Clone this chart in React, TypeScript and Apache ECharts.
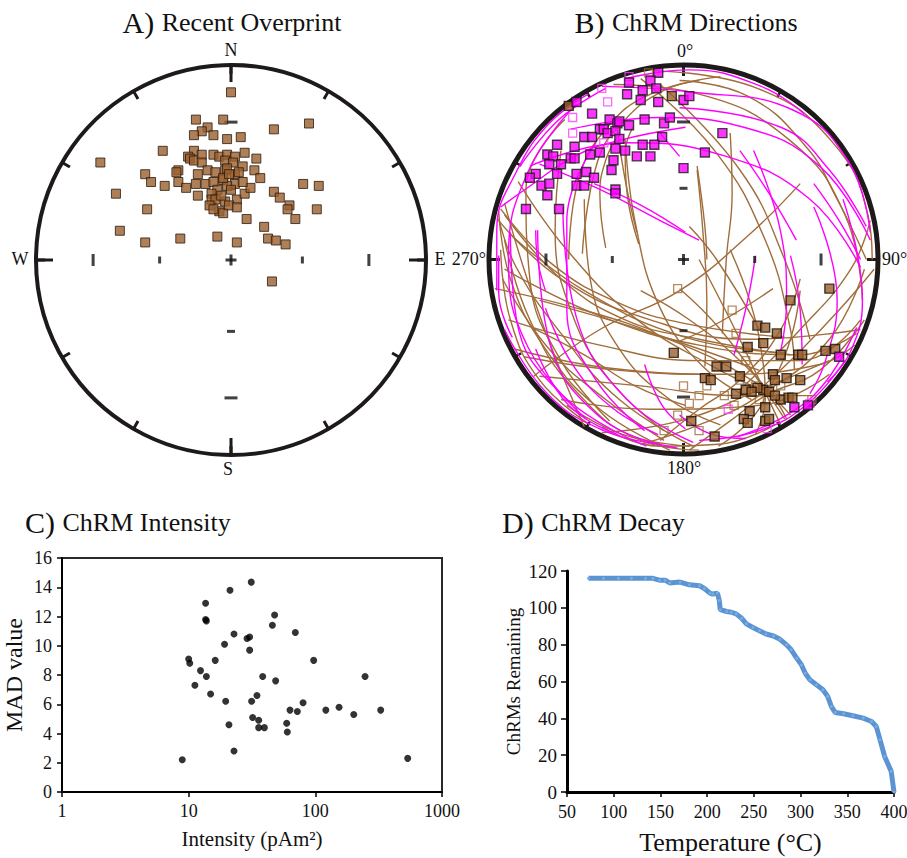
import React, { useEffect, useRef } from "react";
import * as echarts from "echarts";

// ---------- Panel A: recent overprint directions (equal-area, east/north in net radii)
const A_POINTS: number[][] = [
  [0.0, 0.86], [-0.18, 0.72], [-0.04, 0.72], [0.22, 0.67], [0.4, 0.7], [-0.12, 0.68], [-0.15, 0.66],
  [-0.19, 0.64], [-0.09, 0.64], [-0.02, 0.62], [0.05, 0.63], [-0.35, 0.56], [-0.67, 0.5], [-0.19, 0.56],
  [-0.22, 0.53], [-0.21, 0.52], [-0.19, 0.51], [-0.15, 0.54], [-0.15, 0.5], [-0.09, 0.54], [-0.06, 0.53],
  [-0.02, 0.54], [-0.03, 0.51], [0.02, 0.53], [0.07, 0.55], [0.01, 0.5], [0.06, 0.48], [0.13, 0.52],
  [-0.27, 0.46], [-0.28, 0.45], [-0.17, 0.44], [-0.12, 0.46], [-0.08, 0.45], [-0.03, 0.46], [0.02, 0.44],
  [0.04, 0.45], [0.12, 0.46], [0.15, 0.42], [-0.44, 0.44], [-0.41, 0.4], [-0.34, 0.38], [-0.27, 0.4],
  [-0.23, 0.37], [-0.18, 0.39], [-0.13, 0.39], [-0.09, 0.4], [-0.04, 0.41], [0.02, 0.39], [-0.02, 0.38],
  [-0.07, 0.36], [-0.1, 0.34], [-0.17, 0.33], [-0.1, 0.31], [-0.08, 0.31], [-0.03, 0.3], [0.03, 0.31],
  [0.07, 0.34], [0.1, 0.37], [0.22, 0.35], [0.25, 0.32], [0.37, 0.39], [0.45, 0.38], [-0.59, 0.34],
  [-0.43, 0.26], [-0.11, 0.28], [-0.06, 0.25], [-0.04, 0.24], [-0.01, 0.28], [0.03, 0.27], [0.08, 0.21],
  [0.3, 0.28], [0.29, 0.26], [0.33, 0.21], [0.44, 0.26], [0.17, 0.17], [0.19, 0.11], [0.23, 0.1],
  [0.28, 0.08], [-0.57, 0.15], [-0.44, 0.09], [-0.26, 0.11], [-0.07, 0.12], [0.03, 0.09], [0.21, -0.11],
  [-0.02, 0.47], [-0.04, 0.42], [-0.01, 0.44], [-0.09, 0.26], [0.06, 0.4], [-0.05, 0.33], [0.0, 0.36],
];

// ---------- Panel B: ChRM directions
const B_MAGENTA_FILLED: number[][] = [
  [-0.13, 0.96], [-0.17, 0.92], [-0.28, 0.91], [-0.21, 0.87], [-0.14, 0.88], [-0.29, 0.85], [-0.22, 0.82],
  [-0.13, 0.81], [0.0, 0.82], [0.03, 0.84], [-0.55, 0.81], [-0.47, 0.75], [-0.38, 0.72], [-0.34, 0.7],
  [-0.33, 0.71], [-0.28, 0.69], [-0.2, 0.72], [-0.1, 0.7], [-0.07, 0.73], [0.2, 0.65], [-0.43, 0.67],
  [-0.41, 0.67], [-0.39, 0.65], [-0.35, 0.66], [-0.51, 0.63], [-0.47, 0.63], [-0.33, 0.62], [-0.11, 0.63],
  [-0.65, 0.59], [-0.56, 0.58], [-0.35, 0.57], [-0.3, 0.56], [-0.21, 0.59], [-0.15, 0.59], [-0.43, 0.55],
  [-0.48, 0.54], [-0.24, 0.53], [-0.17, 0.53], [0.11, 0.55], [-0.7, 0.54], [-0.67, 0.53], [-0.58, 0.52],
  [-0.56, 0.52], [-0.69, 0.49], [-0.63, 0.49], [-0.36, 0.51], [-0.37, 0.46], [0.0, 0.47], [-0.76, 0.44],
  [-0.79, 0.42], [-0.65, 0.44], [-0.55, 0.44], [-0.5, 0.45], [-0.46, 0.42], [-0.73, 0.38], [-0.69, 0.39],
  [-0.55, 0.38], [-0.51, 0.38], [-0.35, 0.36], [-0.35, 0.34], [-0.7, 0.33], [-0.81, 0.26], [-0.64, 0.26],
  [0.8, -0.5], [0.57, -0.76], [0.64, -0.75],
];
const B_MAGENTA_OPEN: number[][] = [
  [-0.42, 0.88], [-0.39, 0.81], [-0.57, 0.65], [-0.41, 0.6], [-0.57, 0.73], [-0.28, 0.94],
  [0.23, -0.77], [0.65, -0.74], [0.43, -0.87],
];
const B_BROWN_FILLED: number[][] = [
  [-0.06, 0.84], [-0.59, 0.79], [0.75, -0.15], [0.55, -0.21], [0.38, -0.34], [0.42, -0.35], [0.48, -0.38],
  [0.33, -0.45], [0.41, -0.43], [0.5, -0.49], [0.59, -0.49], [0.61, -0.49], [0.73, -0.47], [0.78, -0.46],
  [0.17, -0.55], [0.22, -0.55], [0.11, -0.61], [0.14, -0.62], [0.29, -0.6], [0.46, -0.59], [0.47, -0.62],
  [0.53, -0.61], [0.6, -0.62], [0.27, -0.69], [0.32, -0.67], [0.41, -0.67], [0.44, -0.68], [0.5, -0.72],
  [0.54, -0.71], [0.56, -0.71], [0.34, -0.78], [0.42, -0.76], [0.31, -0.82], [0.33, -0.84], [0.42, -0.83],
  [0.44, -0.82], [0.04, -0.83], [0.16, -0.91], [-0.05, -0.48], [0.38, -0.66], [0.35, -0.68], [0.47, -0.7],
];
const B_BROWN_OPEN: number[][] = [
  [-0.03, -0.15], [0.27, -0.38], [0.25, -0.26], [0.03, -0.74], [-0.03, -0.8], [0.12, -0.65], [-0.18, 0.96],
  [0.29, -0.62], [0.37, -0.65], [0.39, -0.72], [0.21, -0.7], [0.08, -0.7], [0.32, -0.52], [0.66, -0.72],
  [-0.1, -0.88], [0.26, -0.75], [0.08, -0.88], [0.5, -0.65], [0.0, -0.65],
];
const B_BROWN_ARCS: number[][][] = [
  [[-0.15, 0.97], [0.38, 0.88], [0.76, 0.61], [0.95, 0.22], [0.97, 0]],
  [[-0.02, 0.92], [0.33, 0.84], [0.63, 0.58], [0.79, 0.31], [0.94, 0]],
  [[-0.36, 0.9], [0.08, 0.85], [0.55, 0.61], [0.83, 0.23], [0.92, -0.21]],
  [[-0.22, 0.93], [0.16, 0.56], [0.42, 0.1], [0.55, -0.36], [0.57, -0.57]],
  [[-0.12, 0.9], [0.29, 0.46], [0.52, 0.0], [0.65, -0.41]],
  [[-0.52, 0.03], [-0.44, 0.51], [-0.3, 0.72], [-0.1, 0.87], [0.08, 0.92]],
  [[-0.59, 0.0], [-0.54, 0.41], [-0.4, 0.67], [-0.17, 0.85], [0.19, 0.94]],
  [[-0.23, 0.08], [-0.29, 0.34], [-0.3, 0.55], [-0.26, 0.68]],
  [[-0.4, 0.06], [-0.43, 0.34], [-0.4, 0.51], [-0.34, 0.63]],
  [[-0.24, 0.14], [-0.3, 0.41], [-0.34, 0.67]],
  [[0.07, 0.46], [0.1, 0.14], [0.12, -0.21], [0.11, -0.55]],
  [[0.24, 0.65], [0.25, 0.34], [0.22, 0.0], [0.2, -0.38]],
  [[0.07, 0.48], [0.11, 0.17], [0.12, 0.0]],
  [[-0.77, -0.6], [-0.43, -0.36], [-0.02, -0.16], [0.34, 0.13], [0.6, 0.39]],
  [[0.03, 0.17], [0.17, 0.0], [0.39, -0.36]],
  [[-0.95, 0.25], [-0.89, -0.1], [-0.71, -0.46], [-0.43, -0.77], [-0.07, -0.98]],
  [[-0.92, 0.1], [-0.79, -0.31], [-0.56, -0.67], [-0.22, -0.93], [0.08, -0.98]],
  [[-0.95, 0.21], [-0.86, -0.04], [-0.63, -0.38], [-0.33, -0.72], [0.05, -0.96]],
  [[-0.94, 0.05], [-0.89, -0.31], [-0.74, -0.62], [-0.48, -0.85]],
  [[-0.61, 0.72], [-0.81, 0.36], [-0.79, -0.1], [-0.63, -0.52], [-0.38, -0.83]],
  [[-0.63, 0.56], [-0.66, 0.15], [-0.58, -0.26], [-0.38, -0.62], [-0.1, -0.88]],
  [[-0.51, 0.31], [-0.48, -0.1], [-0.33, -0.46], [-0.07, -0.72], [0.19, -0.85]],
  [[-0.95, 0.2], [-0.63, -0.1], [-0.17, -0.31], [0.34, -0.41], [0.91, -0.36]],
  [[-0.92, -0.05], [-0.43, -0.29], [0.08, -0.44], [0.6, -0.49], [0.89, -0.38]],
  [[-0.9, -0.31], [-0.43, -0.44], [0.08, -0.52], [0.6, -0.52], [0.91, -0.31]],
  [[-0.82, -0.5], [-0.33, -0.57], [0.19, -0.59], [0.7, -0.54], [0.88, -0.44]],
  [[-0.74, -0.6], [-0.22, -0.65], [0.29, -0.7], [0.66, -0.7]],
  [[-0.63, -0.72], [-0.17, -0.77], [0.39, -0.75], [0.75, -0.59]],
  [[-0.74, -0.21], [-0.22, -0.36], [0.39, -0.57]],
  [[-0.78, -0.35], [-0.51, -0.49], [-0.25, -0.65], [0.01, -0.75]],
  [[-0.87, -0.46], [-0.51, -0.54], [-0.16, -0.58], [0.08, -0.59]],
  [[0.03, -0.98], [0.24, -0.83], [0.42, -0.7], [0.7, -0.57], [0.93, -0.31]],
  [[-0.22, -0.95], [0.08, -0.85], [0.39, -0.7], [0.75, -0.41], [0.93, -0.05]],
  [[0.18, -0.96], [0.34, -0.83], [0.44, -0.67], [0.55, -0.41], [0.6, -0.16]],
  [[0.37, -0.9], [0.42, -0.72], [0.4, -0.47], [0.34, -0.21], [0.24, 0.05]],
  [[0.53, -0.82], [0.47, -0.72], [0.29, -0.52], [0.03, -0.31], [-0.22, -0.16]],
  [[-0.02, -0.15], [0.19, -0.36], [0.44, -0.7], [0.52, -0.82]],
  [[0.08, 0.0], [0.24, -0.31], [0.39, -0.62], [0.5, -0.85]],
  [[0.46, -0.15], [0.19, -0.32], [-0.02, -0.42]],
  [[0.39, -0.67], [0.6, -0.47], [0.8, -0.26], [0.98, -0.05]],
  [[0.29, -0.67], [0.6, -0.36], [0.86, -0.05], [0.96, 0.2]],
  [[-0.42, -0.89], [-0.02, -0.83], [0.39, -0.67], [0.75, -0.52]],
  [[-0.12, -0.93], [0.08, -0.77], [0.29, -0.62], [0.5, -0.36], [0.6, -0.1]],
  [[-0.42, -0.86], [-0.12, -0.96], [0.18, -0.95], [0.47, -0.85]],
  [[-0.6, -0.75], [-0.31, -0.9], [0.03, -0.96]],
  [[-0.94, 0.26], [-0.68, -0.02], [-0.34, -0.22], [0.01, -0.33], [0.52, -0.4]],
  [[-0.92, 0.23], [-0.63, -0.1], [-0.3, -0.31], [0.08, -0.41], [0.55, -0.49]],
  [[-0.88, 0.12], [-0.51, -0.16], [0.01, -0.4], [0.52, -0.48]],
  [[-0.85, 0.4], [-0.6, 0.05], [-0.25, -0.3], [0.15, -0.55], [0.4, -0.67]],
  [[-0.93, -0.1], [-0.7, -0.45], [-0.4, -0.72], [-0.1, -0.93]],
  [[-0.92, 0.29], [-0.82, -0.05], [-0.68, -0.45], [-0.51, -0.86]],
  [[-0.3, 0.62], [-0.25, 0.2], [-0.12, -0.25], [0.1, -0.55], [0.35, -0.72]],
  [[-0.97, -0.15], [-0.55, -0.25], [-0.1, -0.4], [0.35, -0.62], [0.55, -0.8]],
];
const B_MAGENTA_ARCS: number[][][] = [
  [[-0.42, 0.89], [0.05, 0.86], [0.56, 0.77], [0.85, 0.5], [0.96, 0.14]],
  [[-0.58, 0.67], [-0.12, 0.73], [0.31, 0.68], [0.7, 0.48], [0.96, 0.1]],
  [[-0.79, 0.48], [-0.29, 0.6], [0.22, 0.53], [0.65, 0.31], [0.91, -0.04]],
  [[-0.49, 0.85], [-0.69, 0.7], [-0.86, 0.45], [-0.96, 0.15], [-0.96, -0.16]],
  [[-0.4, 0.88], [-0.64, 0.72], [-0.84, 0.48]],
  [[-0.89, 0.14], [-0.86, -0.3], [-0.63, -0.69], [-0.19, -0.96]],
  [[-0.75, 0.15], [-0.7, -0.38], [-0.43, -0.81], [-0.03, -0.97]],
  [[-0.62, 0.27], [-0.55, -0.3], [-0.29, -0.72], [0.05, -0.94]],
  [[-0.94, 0.27], [-0.8, 0.37], [-0.56, 0.53], [-0.34, 0.61], [0.01, 0.68]],
  [[-0.46, 0.39], [-0.22, 0.28], [0.01, 0.14]],
  [[-0.74, 0.49], [-0.43, 0.36], [-0.12, 0.2], [0.08, 0.1]],
  [[-0.02, 0.78], [0.5, 0.68], [0.75, 0.46], [0.94, 0.17]],
  [[0.29, 0.56], [0.44, 0.34], [0.58, 0.1]],
  [[0.67, 0.39], [0.8, 0.2], [0.91, 0.0]],
  [[0.82, 0.31], [0.92, -0.21], [0.86, -0.47], [0.74, -0.63]],
  [[0.67, 0.27], [0.79, -0.21], [0.73, -0.52], [0.65, -0.69]],
  [[0.36, 0.56], [0.5, 0.14], [0.53, -0.21], [0.5, -0.47]],
  [[0.37, 0.02], [0.33, -0.21], [0.26, -0.49]],
  [[0.55, 0.02], [0.6, -0.26], [0.61, -0.54]],
  [[-0.92, -0.36], [-0.7, -0.69], [-0.41, -0.88], [-0.12, -0.95]],
  [[-0.3, 0.93], [0.03, 0.975], [0.4, 0.89], [0.62, 0.75]],
  [[-0.95, 0.02], [-0.95, -0.17], [-0.88, -0.4]],
  [[-0.76, -0.46], [-0.59, -0.75], [-0.34, -0.9]],
  [[-0.71, -0.25], [-0.57, -0.54], [-0.37, -0.76], [-0.13, -0.9]],
  [[0.08, -0.93], [0.39, -0.88], [0.64, -0.74], [0.83, -0.52]],
  [[0.28, -0.91], [0.53, -0.8], [0.73, -0.63], [0.89, -0.35]],
  [[-0.2, -0.54], [-0.11, -0.75], [0.01, -0.87]],
  [[-0.76, 0.15], [-0.75, 0.0], [-0.71, -0.16]],
  [[-0.02, -0.8], [0.15, -0.9], [0.32, -0.92]],
  [[-0.12, 0.65], [-0.02, 0.53]],
  [[-0.55, 0.8], [-0.8, 0.45], [-0.9, 0.0], [-0.8, -0.45], [-0.5, -0.82]],
  [[-0.45, 0.6], [-0.6, 0.2], [-0.6, -0.25], [-0.45, -0.62], [-0.2, -0.88]],
];

// ---------- Panel C: intensity vs MAD
const C_INTENSITY = [
  8.9, 10, 10.2, 11.2, 12.4, 13.6, 13.6, 13.8, 13.8, 14.9, 16.2, 19.2, 19.6, 20.8, 21.2, 22.8, 22.8, 28.9,
  30.3, 30.3, 31.2, 31.4, 32, 34.6, 35.7, 35.7, 38.4, 39.6, 45.8, 47.7, 48.6, 59.4, 60.1, 63.1, 69.5, 72.1,
  80, 97, 121, 154, 201, 247, 328, 536,
];
const C_MAD = [
  2.2, 9.1, 8.8, 7.3, 8.3, 12.9, 11.8, 11.7, 7.9, 6.7, 9.0, 10.1, 6.2, 4.6, 13.8, 10.8, 2.8, 10.5,
  10.6, 9.7, 14.35, 6.2, 5.1, 6.6, 4.9, 4.4, 7.9, 4.4, 11.4, 12.1, 7.6, 4.7, 4.1, 5.6, 10.9, 5.5,
  6.1, 9.0, 5.6, 5.8, 5.3, 7.9, 5.6, 2.3,
];

// ---------- Panel D: ChRM decay
const D_TEMP = [
  73, 89, 105, 119, 134, 142, 149, 155, 160, 171, 181, 192, 197, 203, 206, 211, 213, 214, 221, 226, 231, 237,
  242, 249, 256, 263, 271, 278, 285, 290, 296, 301, 305, 310, 317, 324, 329, 333, 337, 346, 356, 367, 376,
  381, 385, 390, 397, 400,
];
const D_COUNT = [
  116, 116, 116, 116, 116, 116, 115, 115, 113.5, 114, 112.5, 112, 110.5, 108, 107.5, 108, 104, 99, 98, 97.6,
  96.7, 94.3, 91.3, 89.3, 87.6, 85.8, 84.7, 82.9, 79.9, 77.2, 72.6, 69, 64.5, 60.9, 58.2, 55.5, 51.9, 46.4,
  43.2, 42.5, 41.4, 40.1, 38.3, 35.6, 28.4, 19.3, 11.2, 0,
];

const NET_INC_MARKS = [60, 30];
const SERIF = "'Liberation Serif', 'Times New Roman', serif";
const BROWN = "#9b602e";
const BROWN_LINE = "#a06d3b";
const MAGENTA = "#ff00ff";
const INK = "#111111";

const NET_A = { cx: 231, cy: 260, r: 195 };
const NET_B = { cx: 683.5, cy: 259.5, r: 194.5 };

function equalAreaRadius(inc: number) {
  return Math.SQRT2 * Math.sin((((90 - inc) / 2) * Math.PI) / 180);
}

function netMarks() {
  const items: any[] = [];
  NET_INC_MARKS.forEach((inc, i) => {
    const r = equalAreaRadius(inc);
    const outer = i === 1;
    const v = outer ? [3, 12] : [3, 7];
    const h = outer ? [13, 3] : [8, 3];
    items.push(
      { value: [r, 0], symbolSize: v },
      { value: [-r, 0], symbolSize: v },
      { value: [0, r], symbolSize: h },
      { value: [0, -r], symbolSize: h }
    );
  });
  items.push({ value: [0, 0], symbolSize: [3, 11] }, { value: [0, 0], symbolSize: [11, 3] });
  return items;
}

function netGrid(n: { cx: number; cy: number; r: number }) {
  return { left: n.cx - n.r, top: n.cy - n.r, width: 2 * n.r, height: 2 * n.r, outerBoundsMode: "none", containLabel: false };
}

function angle(polarIndex: number, interval: number, len: number, lineShow: boolean, lineW: number, tickW: number) {
  return {
    polarIndex,
    type: "value",
    min: 0,
    max: 360,
    interval,
    startAngle: 90,
    clockwise: true,
    axisLine: { show: lineShow, lineStyle: { color: "#1e1a1a", width: lineW } },
    axisTick: { show: true, inside: true, length: len, lineStyle: { color: "#1e1a1a", width: tickW } },
    axisLabel: { show: false },
    splitLine: { show: false },
    splitArea: { show: false },
  };
}

function arcSeries(arc: number[][], color: string) {
  return {
    type: "line",
    xAxisIndex: 1,
    yAxisIndex: 1,
    data: arc,
    smooth: 0.45,
    symbol: "none",
    showSymbol: false,
    lineStyle: { color, width: 1.4 },
    silent: true,
    z: 2,
  };
}

function buildOption() {
  const hiddenAxis = (gridIndex: number) => ({
    gridIndex,
    type: "value",
    min: -1,
    max: 1,
    show: false,
    splitLine: { show: false },
  });

  const series: any[] = [];
  // Panel A
  series.push({
    type: "scatter",
    xAxisIndex: 0,
    yAxisIndex: 0,
    symbol: "rect",
    symbolSize: 9,
    data: A_POINTS,
    itemStyle: { color: BROWN, borderColor: "#2a1a0c", borderWidth: 1 },
    silent: true,
    z: 3,
  });
  series.push({
    type: "scatter",
    xAxisIndex: 0,
    yAxisIndex: 0,
    symbol: "rect",
    data: netMarks(),
    itemStyle: { color: INK },
    silent: true,
    z: 2,
  });
  // Panel B arcs
  B_BROWN_ARCS.forEach((arc) => series.push(arcSeries(arc, BROWN_LINE)));
  B_MAGENTA_ARCS.forEach((arc) => series.push(arcSeries(arc, MAGENTA)));
  series.push({
    type: "scatter",
    xAxisIndex: 1,
    yAxisIndex: 1,
    symbol: "rect",
    data: netMarks(),
    itemStyle: { color: INK },
    silent: true,
    z: 3,
  });
  series.push({
    type: "scatter",
    xAxisIndex: 1,
    yAxisIndex: 1,
    symbol: "rect",
    symbolSize: 8,
    data: B_BROWN_OPEN,
    itemStyle: { color: "rgba(0,0,0,0)", borderColor: BROWN_LINE, borderWidth: 1.3 },
    silent: true,
    z: 4,
  });
  series.push({
    type: "scatter",
    xAxisIndex: 1,
    yAxisIndex: 1,
    symbol: "rect",
    symbolSize: 8,
    data: B_MAGENTA_OPEN,
    itemStyle: { color: "rgba(0,0,0,0)", borderColor: "#ff40ff", borderWidth: 1.3 },
    silent: true,
    z: 4,
  });
  series.push({
    type: "scatter",
    xAxisIndex: 1,
    yAxisIndex: 1,
    symbol: "rect",
    symbolSize: 9,
    data: B_BROWN_FILLED,
    itemStyle: { color: BROWN, borderColor: "#1a1008", borderWidth: 1.4 },
    silent: true,
    z: 5,
  });
  series.push({
    type: "scatter",
    xAxisIndex: 1,
    yAxisIndex: 1,
    symbol: "rect",
    symbolSize: 9,
    data: B_MAGENTA_FILLED,
    itemStyle: { color: MAGENTA, borderColor: "#1a1a1a", borderWidth: 1.4 },
    silent: true,
    z: 6,
  });
  // Panel C
  series.push({
    type: "scatter",
    xAxisIndex: 2,
    yAxisIndex: 2,
    symbol: "circle",
    symbolSize: 7,
    data: C_INTENSITY.map((v, i) => [v, C_MAD[i]]),
    itemStyle: { color: "#000" },
    silent: true,
  });
  // Panel D
  series.push({
    type: "line",
    xAxisIndex: 3,
    yAxisIndex: 3,
    data: D_TEMP.map((t, i) => [t, D_COUNT[i]]),
    symbol: "circle",
    symbolSize: 3,
    showSymbol: true,
    itemStyle: { color: "#7aaee0" },
    lineStyle: { color: "#5b93d3", width: 5 },
    silent: true,
  });

  const tickFont = { color: INK, fontSize: 18, fontFamily: SERIF };
  const label = (text: string, x: number, y: number, align = "center") => ({
    type: "text",
    x,
    y,
    silent: true,
    style: { text, fill: INK, fontSize: 18, fontFamily: SERIF, textAlign: align, textVerticalAlign: "middle" },
  });
  const title = (letter: string, rest: string, x: number, y: number, align: string, big: number, small: number) => ({
    type: "text",
    x,
    y,
    silent: true,
    style: {
      text: `{l|${letter} }{t|${rest}}`,
      textAlign: align,
      textVerticalAlign: "middle",
      fill: INK,
      fontFamily: SERIF,
      fontSize: small,
      rich: {
        l: { fontSize: big, fontFamily: SERIF, fill: INK, color: INK },
        t: { fontSize: small, fontFamily: SERIF, fill: INK, color: INK },
      },
    },
  });

  return {
    animation: false,
    backgroundColor: "#ffffff",
    textStyle: { fontFamily: SERIF },
    grid: [
      netGrid(NET_A),
      netGrid(NET_B),
      { left: 62, top: 558, width: 380, height: 234, show: true, borderColor: "#2a2a2a", borderWidth: 2, backgroundColor: "transparent", outerBoundsMode: "none", containLabel: false },
      { left: 567, top: 571, width: 327, height: 221, outerBoundsMode: "none", containLabel: false },
    ],
    xAxis: [
      hiddenAxis(0),
      hiddenAxis(1),
      {
        gridIndex: 2,
        type: "log",
        logBase: 10,
        min: 1,
        max: 1000,
        axisLine: { show: true, onZero: false, lineStyle: { color: "#000", width: 2 } },
        axisTick: { show: true, inside: false, length: 5, lineStyle: { color: "#000", width: 1.5 } },
        minorTick: { show: false },
        splitLine: { show: false },
        axisLabel: { ...tickFont, margin: 10, formatter: (v: number) => String(Math.round(v)) },
        name: "Intensity (pAm²)",
        nameLocation: "middle",
        nameGap: 36,
        nameTextStyle: { color: INK, fontSize: 21, fontFamily: SERIF },
      },
      {
        gridIndex: 3,
        type: "value",
        min: 50,
        max: 400,
        interval: 50,
        axisLine: { show: true, onZero: false, lineStyle: { color: "#000", width: 3 } },
        axisTick: { show: true, inside: false, length: 5, lineStyle: { color: "#000", width: 1.5 } },
        splitLine: { show: false },
        axisLabel: { ...tickFont, margin: 11 },
        name: "Temperature (°C)",
        nameLocation: "middle",
        nameGap: 37,
        nameTextStyle: { color: INK, fontSize: 26, fontFamily: SERIF },
      },
    ],
    yAxis: [
      hiddenAxis(0),
      hiddenAxis(1),
      {
        gridIndex: 2,
        type: "value",
        min: 0,
        max: 16,
        interval: 2,
        axisLine: { show: true, onZero: false, lineStyle: { color: "#000", width: 2 } },
        axisTick: { show: true, inside: false, length: 5, lineStyle: { color: "#000", width: 1.5 } },
        splitLine: { show: false },
        axisLabel: { ...tickFont, margin: 10 },
        name: "MAD value",
        nameLocation: "middle",
        nameGap: 36,
        nameRotate: 90,
        nameTextStyle: { color: INK, fontSize: 24, fontFamily: SERIF },
      },
      {
        gridIndex: 3,
        type: "value",
        min: 0,
        max: 120,
        interval: 20,
        axisLine: { show: true, onZero: false, lineStyle: { color: "#000", width: 3 } },
        axisTick: { show: true, inside: false, length: 6, lineStyle: { color: "#000", width: 1.5 } },
        splitLine: { show: false },
        axisLabel: { ...tickFont, fontSize: 19, margin: 10 },
        name: "ChRMs Remaining",
        nameLocation: "middle",
        nameGap: 44,
        nameRotate: 90,
        nameTextStyle: { color: INK, fontSize: 19, fontFamily: SERIF },
      },
    ],
    polar: [
      { center: [NET_A.cx, NET_A.cy], radius: NET_A.r },
      { center: [NET_A.cx, NET_A.cy], radius: NET_A.r },
      { center: [NET_B.cx, NET_B.cy], radius: NET_B.r },
      { center: [NET_B.cx, NET_B.cy], radius: NET_B.r },
    ],
    angleAxis: [
      angle(0, 30, 9, true, 4, 3),
      angle(1, 90, 17, false, 4, 3),
      angle(2, 30, 7, true, 5, 2.5),
      angle(3, 90, 11, false, 5, 3),
    ],
    radiusAxis: [0, 1, 2, 3].map((i) => ({
      polarIndex: i,
      min: 0,
      max: 1,
      show: false,
      axisLine: { show: false },
      axisTick: { show: false },
      axisLabel: { show: false },
      splitLine: { show: false },
    })),
    graphic: {
      elements: [
        title("A)", "Recent Overprint", 232, 22, "center", 30, 26),
        title("B)", "ChRM Directions", 686, 22, "center", 30, 26),
        title("C)", "ChRM Intensity", 25, 522, "left", 30, 26),
        title("D)", "ChRM Decay", 502, 522, "left", 30, 26),
        label("N", 231, 50),
        label("S", 228, 469),
        label("W", 20, 259),
        label("E", 440, 259),
        label("0°", 685, 51),
        label("180°", 684, 468),
        label("270°", 486, 259, "right"),
        label("90°", 882, 259, "left"),
      ],
    },
    series,
  };
}

export default function App() {
  const ref = useRef<HTMLDivElement | null>(null);
  useEffect(() => {
    if (!ref.current) return;
    const chart = echarts.init(ref.current, null, { renderer: "svg" });
    chart.setOption(buildOption() as any);
    return () => chart.dispose();
  }, []);
  return (
    <div
      ref={ref}
      style={{ position: "absolute", left: 0, top: 0, width: 907, height: 858, background: "#fff" }}
    />
  );
}
